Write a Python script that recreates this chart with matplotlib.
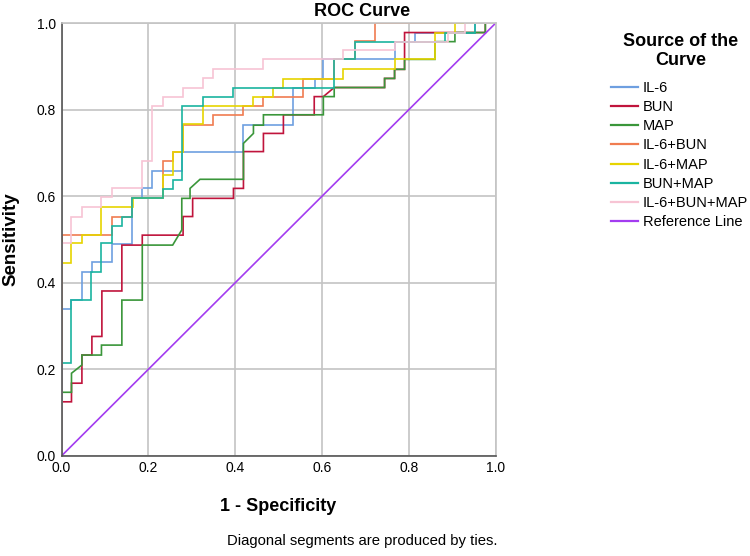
import matplotlib
matplotlib.use("Agg")
import matplotlib.pyplot as plt

plt.rcParams['font.family'] = ['Liberation Sans', 'DejaVu Sans']

# Courbes ROC : sommets (1 - spécificité, sensibilité)
il6_x = [0, 0, 0.023, 0.023, 0.047, 0.047, 0.07, 0.07, 0.116, 0.116, 0.163, 0.163, 0.186, 0.186,
         0.209, 0.209, 0.277, 0.277, 0.419, 0.419, 0.534, 0.534, 0.584, 0.584, 0.603, 0.603,
         0.767, 0.767, 0.815, 0.815, 0.953, 0.953, 1]
il6_y = [0, 0.34, 0.34, 0.36, 0.36, 0.424, 0.424, 0.449, 0.449, 0.49, 0.49, 0.595, 0.595, 0.618,
         0.618, 0.659, 0.659, 0.703, 0.703, 0.764, 0.764, 0.849, 0.849, 0.87, 0.87, 0.917,
         0.917, 0.957, 0.957, 0.978, 0.978, 1, 1]

bun_x = [0, 0, 0.023, 0.023, 0.047, 0.047, 0.07, 0.07, 0.093, 0.093, 0.139, 0.139, 0.186, 0.186,
         0.28, 0.28, 0.302, 0.302, 0.396, 0.396, 0.419, 0.419, 0.465, 0.465, 0.511, 0.511,
         0.582, 0.582, 0.603, 0.628, 0.744, 0.744, 0.767, 0.767, 0.79, 0.79, 0.976, 0.976, 1]
bun_y = [0, 0.125, 0.125, 0.168, 0.168, 0.233, 0.233, 0.276, 0.276, 0.381, 0.381, 0.487, 0.487, 0.51,
         0.51, 0.553, 0.553, 0.595, 0.595, 0.618, 0.618, 0.703, 0.703, 0.745, 0.745, 0.788,
         0.788, 0.83, 0.83, 0.851, 0.851, 0.872, 0.872, 0.893, 0.893, 0.978, 0.978, 1, 1]

map_x = [0, 0, 0.023, 0.023, 0.047, 0.047, 0.092, 0.092, 0.139, 0.139, 0.186, 0.186, 0.256, 0.277,
         0.277, 0.296, 0.296, 0.319, 0.419, 0.419, 0.442, 0.442, 0.465, 0.465, 0.603, 0.603,
         0.628, 0.628, 0.744, 0.744, 0.767, 0.767, 0.79, 0.79, 0.86, 0.86, 0.906, 0.906,
         0.976, 0.976, 1]
map_y = [0, 0.147, 0.147, 0.191, 0.21, 0.233, 0.233, 0.256, 0.256, 0.36, 0.36, 0.487, 0.487, 0.522,
         0.595, 0.595, 0.618, 0.639, 0.639, 0.722, 0.745, 0.764, 0.764, 0.788, 0.788, 0.83,
         0.83, 0.851, 0.851, 0.872, 0.872, 0.893, 0.893, 0.916, 0.916, 0.957, 0.957, 0.978,
         0.978, 1, 1]

il6_bun_x = [0, 0, 0.116, 0.116, 0.163, 0.163, 0.233, 0.233, 0.256, 0.256, 0.28, 0.28, 0.35, 0.35,
             0.419, 0.419, 0.465, 0.465, 0.557, 0.557, 0.627, 0.627, 0.676, 0.676, 0.722, 0.722, 1]
il6_bun_y = [0, 0.51, 0.51, 0.552, 0.552, 0.595, 0.595, 0.681, 0.681, 0.703, 0.703, 0.764, 0.764, 0.788,
             0.788, 0.808, 0.808, 0.83, 0.83, 0.87, 0.87, 0.916, 0.916, 0.958, 0.958, 1, 1]

il6_map_x = [0, 0, 0.023, 0.023, 0.047, 0.047, 0.092, 0.092, 0.165, 0.165, 0.233, 0.233, 0.256, 0.256,
             0.28, 0.28, 0.326, 0.326, 0.442, 0.442, 0.488, 0.488, 0.511, 0.511, 0.649, 0.649,
             0.767, 0.767, 0.859, 0.859, 0.907, 0.907, 1]
il6_map_y = [0, 0.445, 0.445, 0.491, 0.491, 0.51, 0.51, 0.576, 0.576, 0.595, 0.595, 0.65, 0.65, 0.703,
             0.703, 0.767, 0.767, 0.808, 0.808, 0.83, 0.83, 0.849, 0.849, 0.871, 0.871, 0.894,
             0.894, 0.916, 0.916, 0.978, 0.978, 1, 1]

bun_map_x = [0, 0, 0.023, 0.023, 0.069, 0.069, 0.092, 0.092, 0.116, 0.116, 0.139, 0.139, 0.163, 0.163,
             0.233, 0.233, 0.256, 0.256, 0.277, 0.277, 0.326, 0.326, 0.396, 0.396, 0.628, 0.628,
             0.676, 0.676, 0.884, 0.884, 0.953, 0.953, 1]
bun_map_y = [0, 0.214, 0.214, 0.36, 0.36, 0.426, 0.426, 0.491, 0.491, 0.532, 0.532, 0.552, 0.552, 0.595,
             0.595, 0.616, 0.616, 0.637, 0.637, 0.808, 0.808, 0.83, 0.83, 0.849, 0.849, 0.916,
             0.916, 0.957, 0.957, 0.978, 0.978, 1, 1]

all3_x = [0, 0, 0.023, 0.023, 0.047, 0.047, 0.092, 0.092, 0.116, 0.116, 0.186, 0.186, 0.209, 0.209,
          0.233, 0.233, 0.279, 0.279, 0.326, 0.326, 0.35, 0.35, 0.465, 0.465, 0.649, 0.649,
          0.767, 0.767, 0.89, 0.89, 0.93, 0.93, 1]
all3_y = [0, 0.491, 0.491, 0.553, 0.553, 0.576, 0.576, 0.599, 0.599, 0.618, 0.618, 0.682, 0.682, 0.808,
          0.808, 0.83, 0.83, 0.851, 0.851, 0.872, 0.872, 0.893, 0.893, 0.917, 0.917, 0.938,
          0.938, 0.957, 0.957, 0.978, 0.978, 1, 1]

ref_x = [0, 1]
ref_y = [0, 1]

courbes = [
    ('IL-6', il6_x, il6_y, '#6e9fe0'),
    ('BUN', bun_x, bun_y, '#c0143c'),
    ('MAP', map_x, map_y, '#3a963a'),
    ('IL-6+BUN', il6_bun_x, il6_bun_y, '#f07c50'),
    ('IL-6+MAP', il6_map_x, il6_map_y, '#e6d400'),
    ('BUN+MAP', bun_map_x, bun_map_y, '#1ab4a0'),
    ('IL-6+BUN+MAP', all3_x, all3_y, '#f7c4d4'),
    ('Reference Line', ref_x, ref_y, '#a33cf0'),
]

fig = plt.figure(figsize=(7.5, 5.56), dpi=100)
ax = fig.add_axes([0.082, 0.18, 0.579, 0.7786])

for nom, xs, ys, couleur in courbes:
    ax.plot(xs, ys, color=couleur, lw=1.2, label=nom, solid_joinstyle='miter')

ax.set_xlim(0, 1)
ax.set_ylim(0, 1)
ticks = [0.0, 0.2, 0.4, 0.6, 0.8, 1.0]
ax.set_xticks(ticks)
ax.set_yticks(ticks)
ax.set_xticklabels(['%.1f' % t for t in ticks])
ax.set_yticklabels(['%.1f' % t for t in ticks])
ax.tick_params(length=0, labelsize=10, pad=4)
ax.grid(True, color='#c4c4c4', lw=1.2)
ax.set_axisbelow(True)
for cote in ['top', 'right']:
    ax.spines[cote].set_color('#c4c4c4')
    ax.spines[cote].set_linewidth(1.2)
for cote in ['left', 'bottom']:
    ax.spines[cote].set_color('#555555')
    ax.spines[cote].set_linewidth(1.2)

ax.set_xlabel('1 - Specificity', fontsize=13, fontweight='bold', labelpad=16)
ax.set_ylabel('Sensitivity', fontsize=13.5, fontweight='bold', labelpad=12)

fig.text(0.483, 0.98, 'ROC Curve', ha='center', va='center', fontsize=13, fontweight='bold')
fig.text(0.483, 0.027, 'Diagonal segments are produced by ties.', ha='center', va='center', fontsize=10.7)

# Titre de la légende posé à part pour garder l'écart du modèle
fig.text(0.907, 0.908, 'Source of the\nCurve', ha='center', va='center', fontsize=13,
         fontweight='bold', multialignment='center', linespacing=1.15)
leg = fig.legend(loc='upper left', bbox_to_anchor=(0.815, 0.855), frameon=False,
                 fontsize=10.5, handlelength=1.8, handletextpad=0.35,
                 labelspacing=0.36, borderaxespad=0, borderpad=0)
for ligne in leg.get_lines():
    ligne.set_linewidth(1.6)

fig.savefig('out.png', dpi=100)
